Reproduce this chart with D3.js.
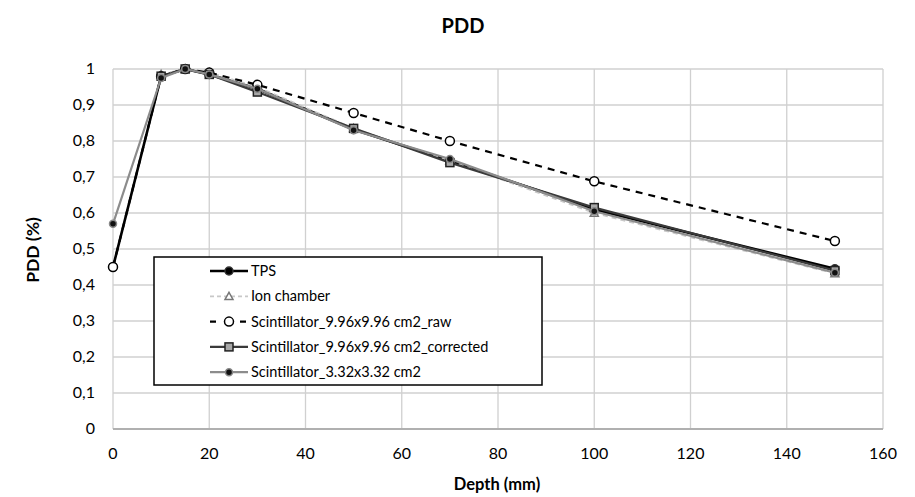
<!DOCTYPE html>
<html lang="en">
  <head>
    <meta charset="utf-8">
    <title>PDD</title>
    <script src="https://d3js.org/d3.v7.min.js"></script>
    <style>
      body {
        margin: 0;
        background: #fff;
        font-family: Lato, "Open Sans", sans-serif;
      }
      .grid line {
        stroke: #d0d0d0;
        stroke-width: 1.3px;
      }
      .tick-label {
        font-size: 16px;
        fill: #000;
      }
      .axis-title {
        font-size: 16.5px;
        font-weight: bold;
      }
    </style>
  </head>
  <body>
    <svg id="chart" width="915" height="497"></svg>

    <script>

    // data **********************************
    let depthsTPS  = [0, 10, 15, 20, 30, 50, 70, 100, 150]
    let tps        = [0.45, 0.98, 1.0, 0.985, 0.945, 0.832, 0.745, 0.61, 0.445]

    let depthsIon  = [10, 15, 20, 30, 50, 70, 100, 150]
    let ionChamber = [0.985, 1.0, 0.99, 0.95, 0.835, 0.745, 0.60, 0.432]

    let depthsRaw  = [0, 10, 15, 20, 30, 50, 70, 100, 150]
    let scintRaw   = [0.45, 0.98, 1.0, 0.99, 0.956, 0.878, 0.80, 0.688, 0.522]

    let depthsCorr = [10, 15, 20, 30, 50, 70, 100, 150]
    let scintCorr  = [0.98, 1.0, 0.985, 0.936, 0.835, 0.74, 0.615, 0.44]

    let depthsSmall = [0, 10, 15, 20, 30, 50, 70, 100, 150]
    let scintSmall  = [0.57, 0.975, 1.0, 0.985, 0.945, 0.83, 0.75, 0.605, 0.434]

    let seriesNames = ["TPS", "Ion chamber", "Scintillator_9.96x9.96 cm2_raw",
                       "Scintillator_9.96x9.96 cm2_corrected", "Scintillator_3.32x3.32 cm2"]

    let xTicks = [0, 20, 40, 60, 80, 100, 120, 140, 160]
    let yTicks = [0, 0.1, 0.2, 0.3, 0.4, 0.5, 0.6, 0.7, 0.8, 0.9, 1]
    let yTickLabels = ["0", "0,1", "0,2", "0,3", "0,4", "0,5", "0,6", "0,7", "0,8", "0,9", "1"]

    // settings ******************************
    let svg = d3.select("#chart")

    let x = d3.scaleLinear().domain([0, 160]).range([113, 883])
    let y = d3.scaleLinear().domain([0, 1]).range([429, 69])

    let series = [
      {name: seriesNames[0], xs: depthsTPS, ys: tps, color: "#000", width: 2.6, dash: null, marker: "circle", mFill: "#000", mStroke: "#333", size: 4},
      {name: seriesNames[1], xs: depthsIon, ys: ionChamber, color: "#c8c8c8", width: 1.8, dash: "5,4", marker: "triangle", mFill: "#fff", mStroke: "#777", size: 4},
      {name: seriesNames[2], xs: depthsRaw, ys: scintRaw, color: "#000", width: 2.2, dash: "7,6", marker: "circle", mFill: "#fff", mStroke: "#000", size: 4.5},
      {name: seriesNames[3], xs: depthsCorr, ys: scintCorr, color: "#3a3a3a", width: 2.2, dash: null, marker: "square", mFill: "#a8a8a8", mStroke: "#222", size: 4},
      {name: seriesNames[4], xs: depthsSmall, ys: scintSmall, color: "#8c8c8c", width: 2.2, dash: null, marker: "circle", mFill: "#111", mStroke: "#888", size: 3.5}
    ]

    // grid **********************************
    let grid = svg.append("g").attr("class", "grid")

    grid.selectAll(".hline")
      .data(yTicks.slice(1))
      .join("line")
        .attr("x1", x(0)).attr("x2", x(160))
        .attr("y1", d => y(d)).attr("y2", d => y(d))

    grid.selectAll(".vline")
      .data(xTicks)
      .join("line")
        .attr("x1", d => x(d)).attr("x2", d => x(d))
        .attr("y1", y(0)).attr("y2", y(1))

    // bottom axis line
    svg.append("line")
      .attr("x1", x(0)).attr("x2", x(160))
      .attr("y1", y(0)).attr("y2", y(0))
      .attr("stroke", "#b0b0b0")
      .attr("stroke-width", 2)

    // tick labels
    svg.selectAll(".xlab")
      .data(xTicks)
      .join("text")
        .attr("class", "tick-label")
        .attr("x", d => x(d))
        .attr("y", 459)
        .attr("text-anchor", "middle")
        .text(d => d)

    svg.selectAll(".ylab")
      .data(yTicks)
      .join("text")
        .attr("class", "tick-label")
        .attr("x", 95)
        .attr("y", d => y(d) + 5)
        .attr("text-anchor", "end")
        .text((d, i) => yTickLabels[i])

    // titles
    svg.append("text")
      .attr("x", 463).attr("y", 33)
      .attr("text-anchor", "middle")
      .style("font-size", "20px")
      .style("font-weight", "bold")
      .text("PDD")

    svg.append("text")
      .attr("class", "axis-title")
      .attr("x", 497).attr("y", 490)
      .attr("text-anchor", "middle")
      .text("Depth (mm)")

    svg.append("text")
      .attr("class", "axis-title")
      .attr("transform", "translate(39, 250) rotate(-90)")
      .attr("text-anchor", "middle")
      .style("font-size", "17.5px")
      .text("PDD (%)")

    // markers *******************************
    function drawMarker(g, s, cx, cy) {
      if (s.marker == "circle") {
        g.append("circle")
          .attr("cx", cx).attr("cy", cy).attr("r", s.size)
          .attr("fill", s.mFill).attr("stroke", s.mStroke).attr("stroke-width", 1.5)
      } else if (s.marker == "square") {
        g.append("rect")
          .attr("x", cx - s.size).attr("y", cy - s.size)
          .attr("width", s.size * 2).attr("height", s.size * 2)
          .attr("fill", s.mFill).attr("stroke", s.mStroke).attr("stroke-width", 1.5)
      } else {
        let r = s.size
        g.append("path")
          .attr("d", `M${cx},${cy - r} L${cx + r},${cy + r * 0.8} L${cx - r},${cy + r * 0.8} Z`)
          .attr("fill", s.mFill).attr("stroke", s.mStroke).attr("stroke-width", 1.5)
      }
    }

    let line = d3.line().x(d => x(d[0])).y(d => y(d[1]))

    series.forEach(function(s) {
      let pts = s.xs.map((d, i) => [d, s.ys[i]])
      let g = svg.append("g")
      g.append("path")
        .datum(pts)
        .attr("d", line)
        .attr("fill", "none")
        .attr("stroke", s.color)
        .attr("stroke-width", s.width)
        .attr("stroke-dasharray", s.dash)
        .attr("stroke-linejoin", "round")
      pts.forEach(p => drawMarker(g, s, x(p[0]), y(p[1])))
    })

    // legend ********************************
    let legend = svg.append("g")
    legend.append("rect")
      .attr("x", 154).attr("y", 257)
      .attr("width", 388).attr("height", 128)
      .attr("fill", "#fff")
      .attr("stroke", "#000")
      .attr("stroke-width", 1.5)

    series.forEach(function(s, i) {
      let ly = 271 + i * 25.3
      legend.append("line")
        .attr("x1", 210).attr("x2", 248)
        .attr("y1", ly).attr("y2", ly)
        .attr("stroke", s.color)
        .attr("stroke-width", s.width)
        .attr("stroke-dasharray", s.dash == null ? null : (i == 2 ? "6,9" : "4,3"))
      drawMarker(legend, s, 229, ly)
      legend.append("text")
        .attr("x", 251).attr("y", ly + 5)
        .style("font-size", "14.5px")
        .text(s.name)
    })

    </script>
  </body>
</html>
